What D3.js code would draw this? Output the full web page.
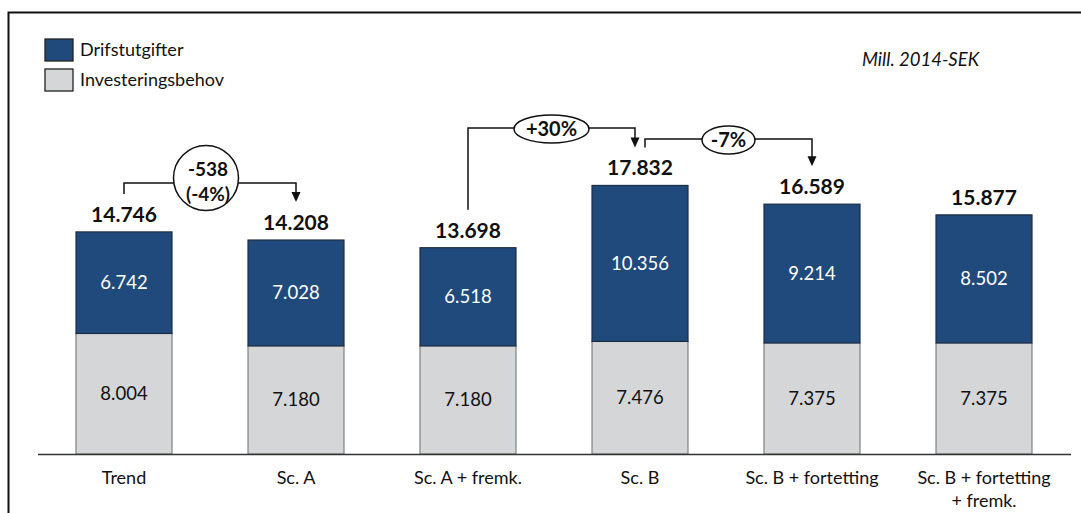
<!DOCTYPE html>
<html>
<head>
<meta charset="utf-8">
<script src="https://cdn.jsdelivr.net/npm/d3@7"></script>
<style>
  html, body { margin: 0; padding: 0; background: #fff; }
  svg { display: block; font-family: Lato, "Open Sans", sans-serif; }
</style>
</head>
<body>
<svg id="chart" width="1081" height="513"></svg>
<script>
// data (mill. 2014-SEK)
const categories = ["Trend", "Sc. A", "Sc. A + fremk.", "Sc. B", "Sc. B + fortetting", "Sc. B + fortetting\n+ fremk."];
const investeringsbehov = [8004, 7180, 7180, 7476, 7375, 7375];
const driftsutgifter = [6742, 7028, 6518, 10356, 9214, 8502];
const totals = [14746, 14208, 13698, 17832, 16589, 15877];
const seriesNames = ["Drifstutgifter", "Investeringsbehov"];
const unitLabel = "Mill. 2014-SEK";
// change brackets between scenarios
const changes = [
  { from: 0, to: 1, text: ["-538", "(-4%)"] },
  { from: 2, to: 3, text: ["+30%"] },
  { from: 3, to: 4, text: ["-7%"] }
];

const blue = "#214a7c", grey = "#d5d6d8";
const fmt = d3.formatLocale({ decimal: ",", thousands: ".", grouping: [3], currency: ["", ""] }).format(",d");

const svg = d3.select("#chart");
const baseY = 454;

const x = d3.scaleBand()
  .domain(d3.range(categories.length))
  .range([38, 1070])
  .paddingInner(76 / 172)
  .paddingOuter(38 / 172);

const y = d3.scaleLinear()
  .domain([0, 20000])
  .range([baseY, baseY - 301.2]);

// frame (only top + left edge visible in the crop)
svg.append("path")
  .attr("d", "M8.5,513 V12.5 H1081")
  .attr("fill", "none").attr("stroke", "#111").attr("stroke-width", 2);

// stacked bars
const stacks = categories.map((c, i) => ({
  i,
  low: [0, investeringsbehov[i]],
  high: [investeringsbehov[i], investeringsbehov[i] + driftsutgifter[i]]
}));

const g = svg.append("g");
const bar = g.selectAll(".bar").data(stacks).join("g").attr("class", "bar");

bar.append("rect")
  .attr("x", d => x(d.i))
  .attr("width", x.bandwidth())
  .attr("y", d => y(d.low[1]))
  .attr("height", d => y(0) - y(d.low[1]))
  .attr("fill", grey).attr("stroke", "#808080").attr("stroke-width", 1.2);

bar.append("rect")
  .attr("x", d => x(d.i))
  .attr("width", x.bandwidth())
  .attr("y", d => y(d.high[1]))
  .attr("height", d => y(d.high[0]) - y(d.high[1]))
  .attr("fill", blue).attr("stroke", "#1b2c45").attr("stroke-width", 1.2);

bar.append("text")
  .attr("x", d => x(d.i) + x.bandwidth() / 2)
  .attr("y", d => (y(d.low[0]) + y(d.low[1])) / 2)
  .attr("dy", "0.35em")
  .attr("text-anchor", "middle")
  .attr("font-size", 18.5).attr("fill", "#111")
  .text(d => fmt(investeringsbehov[d.i]));

bar.append("text")
  .attr("x", d => x(d.i) + x.bandwidth() / 2)
  .attr("y", d => (y(d.high[0]) + y(d.high[1])) / 2)
  .attr("dy", "0.35em")
  .attr("text-anchor", "middle")
  .attr("font-size", 18.5).attr("fill", "#fff")
  .text(d => fmt(driftsutgifter[d.i]));

bar.append("text")
  .attr("x", d => x(d.i) + x.bandwidth() / 2)
  .attr("y", d => y(totals[d.i]) - 10)
  .attr("text-anchor", "middle")
  .attr("font-size", 21).attr("font-weight", 700).attr("fill", "#111")
  .text(d => fmt(totals[d.i]));

// baseline
svg.append("line")
  .attr("x1", 38).attr("x2", 1071)
  .attr("y1", baseY + 0.5).attr("y2", baseY + 0.5)
  .attr("stroke", "#333").attr("stroke-width", 1.5);

// category labels
const xl = svg.append("g").selectAll("text").data(categories).join("text")
  .attr("x", (d, i) => x(i) + x.bandwidth() / 2)
  .attr("y", 484)
  .attr("text-anchor", "middle")
  .attr("font-size", 18).attr("fill", "#111");
xl.selectAll("tspan").data(d => d.split("\n")).join("tspan")
  .attr("x", function () { return this.parentNode.getAttribute("x"); })
  .attr("dy", (d, i) => i ? 23 : 0)
  .text(d => d);

// legend
const legend = svg.append("g").attr("transform", "translate(45,39)");
seriesNames.forEach((name, i) => {
  legend.append("rect")
    .attr("x", 0).attr("y", i * 30)
    .attr("width", 28).attr("height", 22)
    .attr("fill", i ? grey : blue)
    .attr("stroke", "#222").attr("stroke-width", 1.3);
  legend.append("text")
    .attr("x", 35).attr("y", i * 30 + 11).attr("dy", "0.35em")
    .attr("font-size", 18).attr("fill", "#111")
    .text(name);
});

svg.append("text")
  .attr("x", 862).attr("y", 60).attr("dy", "0.35em")
  .attr("font-size", 18.5).attr("font-style", "italic").attr("fill", "#111")
  .text(unitLabel);

// change brackets
const lift = [49, 57.5, 46.5];
const edgeShift = [[0, 0], [0, -5], [5, 0]];
const ann = svg.append("g").attr("stroke", "#111").attr("fill", "none").attr("stroke-width", 1.5);
changes.forEach((c, k) => {
  const x0 = x(c.from) + x.bandwidth() / 2 + edgeShift[k][0];
  const x1 = x(c.to) + x.bandwidth() / 2 + edgeShift[k][1];
  const top = Math.min(y(totals[c.from]), y(totals[c.to]));
  const level = top - lift[k];
  const y0 = y(totals[c.from]) - 38;
  const y1 = y(totals[c.to]) - 38;
  ann.append("path").attr("d", `M${x0},${y0} V${level} H${x1} V${y1 - 9}`);
  ann.append("path")
    .attr("d", `M${x1 - 4.5},${y1 - 10} L${x1 + 4.5},${y1 - 10} L${x1},${y1} Z`)
    .attr("fill", "#111").attr("stroke", "none");
  const two = c.text.length > 1;
  const cx = (x0 + x1) / 2 - (two ? 4 : 0);
  const rx = two ? 32.5 : (c.text[0].length > 3 ? 37.5 : 26.5);
  const ry = two ? 32.5 : 14;
  const cy = two ? level - 5 : level + 1;
  ann.append("ellipse")
    .attr("cx", cx).attr("cy", cy).attr("rx", rx).attr("ry", ry)
    .attr("fill", "#fff");
  c.text.forEach((t, j) => {
    svg.append("text")
      .attr("x", cx + (two ? 2 : 0))
      .attr("y", two ? cy - 9 + j * 25 : cy)
      .attr("dy", "0.35em")
      .attr("text-anchor", "middle")
      .attr("font-size", two ? 19 : 20).attr("font-weight", 700).attr("fill", "#111")
      .text(t);
  });
});
</script>
</body>
</html>
